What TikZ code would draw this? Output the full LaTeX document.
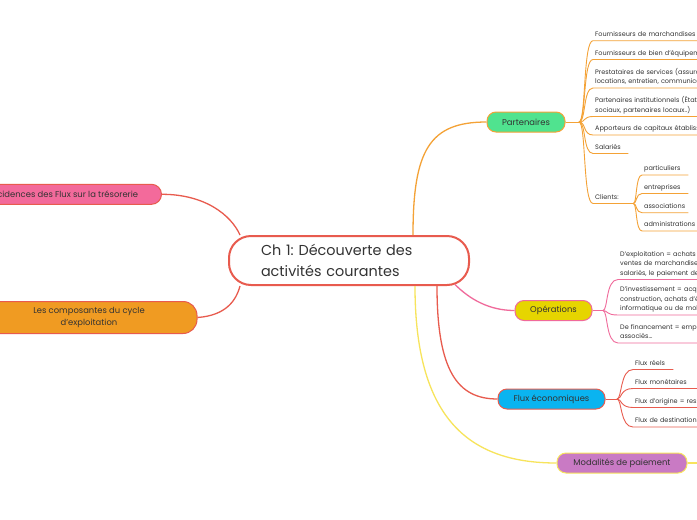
\documentclass[tikz,border=0pt]{standalone}
\usepackage{fontspec}
\setmainfont{Poppins}
\frenchspacing
\definecolor{ctext}{HTML}{333333}
\definecolor{cred}{HTML}{E85B4E}
\definecolor{corange}{HTML}{F4A236}
\definecolor{cpinkl}{HTML}{F06A9B}
\definecolor{cyell}{HTML}{F7E45C}
\definecolor{fgreen}{HTML}{50E38F}
\definecolor{fyellow}{HTML}{E6D500}
\definecolor{fblue}{HTML}{0AB4F0}
\definecolor{fpurple}{HTML}{C97AC4}
\definecolor{fpink}{HTML}{F36A9B}
\definecolor{forange}{HTML}{F09B22}
\tikzset{
  mainbox/.style={draw=cred, line width=2pt, fill=white, rounded corners=22pt,
    minimum width=240pt, minimum height=49pt, text width=176pt, inner xsep=32pt,
    align=left, font=\fontsize{14.4}{20.5}\selectfont, text=ctext},
  topic/.style={rounded corners=9pt, line width=1pt, minimum height=20pt,
    font=\fontsize{8.4}{10}\selectfont, text=ctext, inner sep=0pt},
  leaf/.style={anchor=south west, inner xsep=2pt, inner ysep=1pt,
    font=\fontsize{6.5}{9.5}\selectfont, text=ctext, align=left, text width=#1,
    execute at end node=\strut},
  leaf/.default=200pt,
  link/.style={line width=1.3pt},
  sublink/.style={line width=0.9pt},
}
\begin{document}
\begin{tikzpicture}[x=1pt,y=-1pt]
\useasboundingbox (0,0) rectangle (697,520);
\clip (0,0) rectangle (697,520);
\fill[white] (0,0) rectangle (697,520);

% central node
\node[mainbox] (c) at (349,260.5) {Ch 1: Découverte des\\activités courantes};

% left topics
\node[topic, fill=fpink, draw=cred, minimum width=195pt, minimum height=20pt, rounded corners=10pt, anchor=east] (inc) at (162,194.3) {Incidences des Flux sur la trésorerie};
\node[topic, fill=forange, draw=cred, minimum width=216pt, minimum height=32pt, rounded corners=14pt, align=center, font=\fontsize{8.4}{11.5}\selectfont] (comp) at (89,317.5) {Les composantes du cycle\\d'exploitation};

% right topics
\node[topic, fill=fgreen, draw=corange, minimum width=78pt] (p) at (526,122) {Partenaires};
\node[topic, fill=fyellow, draw=cpinkl, minimum width=77pt] (o) at (553.5,310.5) {Opérations};
\node[topic, fill=fblue, draw=cred, minimum width=107pt] (f) at (551.5,399) {Flux économiques};
\node[topic, fill=fpurple, draw=cyell, minimum width=130pt] (m) at (622,463) {Modalités de paiement};

% main connectors
\draw[link, cred] (inc.east) .. controls +(43,0) and +(-9,-20) .. ([xshift=12pt]c.north west);
\draw[link, cred] (comp.east) .. controls +(28,-2) and +(-4,15) .. ([xshift=12pt]c.south west);
\draw[link, corange] ([xshift=64pt]c.north) .. controls +(0,-85) and +(-57,0) .. (p.west);
\draw[link, cpinkl] ([xshift=106pt,yshift=1.5pt]c.south) .. controls +(15,15) and +(-25,0) .. (o.west);
\draw[link, cred] ([xshift=88pt]c.south) .. controls +(0,85) and +(-40,0) .. (f.west);
\draw[link, cyell] ([xshift=66pt]c.south) .. controls +(0,130) and +(-90,0) .. (m.west);
\coordinate (mend) at (700,463);
\draw[link, cyell] (m.east) -- (mend);

% Partenaires leaves
\coordinate (pa) at (579,122);
\draw[sublink, corange] (p.east) -- (pa);
\node[leaf] (l1) at (593,40.7) {Fournisseurs de marchandises};
\node[leaf] (l2) at (593,59.5) {Fournisseurs de bien d'équipement};
\node[leaf] (l3) at (593,88) {Prestataires de services (assurances,\\locations, entretien, communication...)};
\node[leaf] (l4) at (593,116.5) {Partenaires institutionnels (État, organismes\\sociaux, partenaires locaux..)};
\node[leaf] (l5) at (593,135) {Apporteurs de capitaux établissements financiers};
\node[leaf=31pt] (l6) at (593,153.5) {Salariés};
\node[leaf=36pt] (l7) at (593,203.5) {Clients:};
\foreach \n/\yy in {l1/40.7,l2/59.5,l3/88,l4/116.5,l5/135,l6/153.5,l7/203.5}
  \draw[sublink, corange] (pa) .. controls (586,122) and (583,\yy) .. (\n.south west) -- (\n.south east);

% Clients sub-leaves
\coordinate (ca) at (l7.south east);
\node[leaf=42pt] (s1) at (642,175) {particuliers};
\node[leaf=42pt] (s2) at (642,193.5) {entreprises};
\node[leaf=42pt] (s3) at (642,212.7) {associations};
\node[leaf=60pt] (s4) at (642,231) {administrations};
\foreach \n/\yy in {s1/175,s2/193.5,s3/212.7,s4/231}
  \draw[sublink, corange] (ca) .. controls (637,203.5) and (635.5,\yy) .. (\n.south west) -- (\n.south east);

% Opérations leaves
\coordinate (oa) at (603,310.5);
\draw[sublink, cpinkl] (o.east) -- (oa);
\node[leaf] (o1) at (618,279.5) {D'exploitation = achats de marchandises,\\ventes de marchandises, paiement des\\salariés, le paiement des charges...};
\node[leaf] (o2) at (618,315) {D'investissement = acquisition de locaux,\\construction, achats d'équipement\\informatique ou de mobilier...};
\node[leaf] (o3) at (618,343) {De financement = emprunts, apports des\\associés...};
\foreach \n/\yy in {o1/279.5,o2/315,o3/343}
  \draw[sublink, cpinkl] (oa) .. controls (608,310.5) and (605.5,\yy) .. (\n.south west) -- (\n.south east);

% Flux leaves
\coordinate (fa) at (617,399);
\draw[sublink, cred] (f.east) -- (fa);
\node[leaf=36pt] (f1) at (633,369.5) {Flux réels};
\node[leaf] (f2) at (633,388.5) {Flux monétaires};
\node[leaf] (f3) at (633,407.5) {Flux d'origine = ressources};
\node[leaf] (f4) at (633,427) {Flux de destination = emplois};
\foreach \n/\yy in {f1/369.5,f2/388.5,f3/407.5,f4/427}
  \draw[sublink, cred] (fa) .. controls (622,399) and (620,\yy) .. (\n.south west) -- (\n.south east);
\end{tikzpicture}
\end{document}
